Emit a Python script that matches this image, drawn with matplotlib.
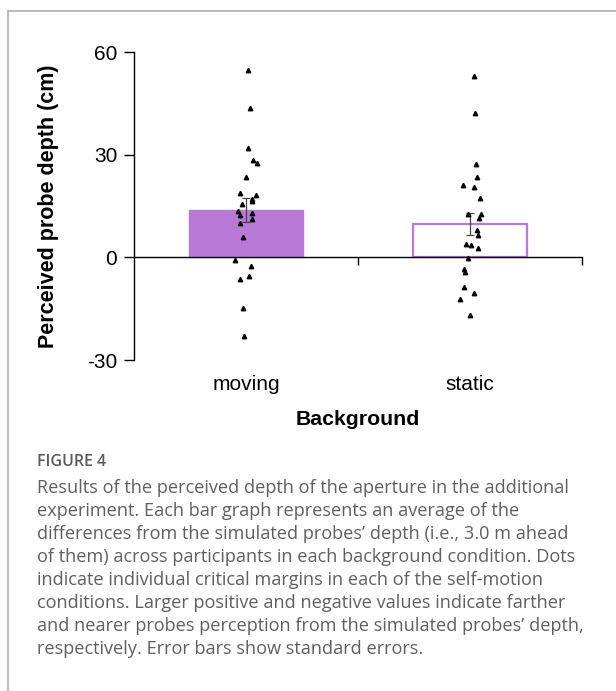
import matplotlib
matplotlib.use("Agg")
import matplotlib.pyplot as plt
from matplotlib.lines import Line2D

categories = ["moving", "static"]
means = [13.9, 9.7]
sems = [3.5, 3.2]

moving_vals = [54.6, 43.6, 31.9, 28.5, 27.5, 23.4, 18.7, 18.2, 17.0, 16.4, 15.5, 13.6,
               12.5, 12.9, 11.3, 10.1, 6.0, -0.8, -2.5, -5.5, -6.3, -14.9, -23.1]
moving_jit = [0.011, 0.019, 0.011, 0.032, 0.047, 0.002, -0.026, 0.045, 0.028, 0.028, -0.017, -0.037,
              -0.029, 0.028, 0.028, -0.026, -0.013, -0.048, 0.023, 0.014, -0.026, -0.013, -0.008]
static_vals = [52.9, 42.3, 27.2, 23.4, 21.1, 20.5, 17.2, 12.6, 12.6, 11.6, 8.1, 6.6,
               4.0, 3.5, 2.8, -0.1, -3.5, -4.3, -8.7, -10.4, -12.2, -16.9]
static_jit = [0.018, 0.021, 0.026, 0.031, -0.033, 0.017, 0.046, -0.008, 0.048, 0.040, 0.031, 0.036,
              -0.017, 0.003, 0.036, -0.010, -0.026, -0.021, -0.026, 0.017, -0.045, -0.001]
yticks = [-30, 0, 30, 60]

caption_title = "FIGURE 4"
caption_lines = [
    "Results of the perceived depth of the aperture in the additional",
    "experiment. Each bar graph represents an average of the",
    "differences from the simulated probes\u2019 depth (i.e., 3.0 m ahead",
    "of them) across participants in each background condition. Dots",
    "indicate individual critical margins in each of the self-motion",
    "conditions. Larger positive and negative values indicate farther",
    "and nearer probes perception from the simulated probes\u2019 depth,",
    "respectively. Error bars show standard errors.",
]

W, H = 616, 691
fig = plt.figure(figsize=(W / 100, H / 100), dpi=100)
fig.patch.set_facecolor("white")

# frame lines
fig.add_artist(Line2D([8 / W, 8 / W], [0, 1 - 11 / H], transform=fig.transFigure, color="#b0b0b0", lw=1.2))
fig.add_artist(Line2D([8 / W, 1], [1 - 11 / H, 1 - 11 / H], transform=fig.transFigure, color="#b0b0b0", lw=1.2))

left, right, top, bottom = 134, 582, 52, 360
ax = fig.add_axes([left / W, 1 - bottom / H, (right - left) / W, (bottom - top) / H])

sans = ["Liberation Sans", "DejaVu Sans"]
xpos = [1, 2]
ax.bar(xpos[0], means[0], width=0.505, color="#b87ad6", edgecolor="#b87ad6", lw=1, zorder=2)
ax.bar(xpos[1], means[1], width=0.505, color="white", edgecolor="#b87ad6", lw=1.6, zorder=2)
ax.errorbar(xpos, means, yerr=sems, fmt="none", ecolor="#444444", elinewidth=0.9, capsize=3, capthick=0.9, zorder=3)

ax.plot([xpos[0] + j for j in moving_jit], moving_vals, ls="none", marker="^", ms=3.2, color="black", zorder=4)
ax.plot([xpos[1] + j for j in static_jit], static_vals, ls="none", marker="^", ms=3.2, color="black", zorder=4)

ax.set_xlim(0.5, 2.5)
ax.set_ylim(-30, 60)
ax.set_yticks(yticks)
ax.set_yticklabels([str(t) for t in yticks], fontsize=15, family=sans)
ax.tick_params(axis="y", direction="out", length=7, width=1, pad=5)
ax.spines["top"].set_visible(False)
ax.spines["right"].set_visible(False)
ax.spines["bottom"].set_position(("data", 0))
ax.spines["left"].set_linewidth(1)
ax.spines["bottom"].set_linewidth(1)
ax.set_xticks([1.5, 2.5])
ax.set_xticklabels(["", ""])
ax.tick_params(axis="x", direction="out", length=6, width=1)

sec = ax.secondary_xaxis(0)
sec.spines["bottom"].set_visible(False)
sec.set_xticks(xpos)
sec.set_xticklabels(categories, fontsize=15, family=sans)
sec.tick_params(axis="x", length=0, pad=11)
sec.set_xlabel("Background", fontsize=15.3, fontweight="bold", family=sans, labelpad=11)

ax.set_ylabel("Perceived probe depth (cm)", fontsize=15.5, fontweight="bold", family=sans)
ax.yaxis.set_label_coords(-0.168, 0.5)

cap_font = ["Open Sans", "DejaVu Sans"]
fig.text(37 / W, 1 - 462 / H, caption_title, fontsize=11.5, color="#5a5a5a", family=cap_font,
         fontweight="semibold", va="center")
for i, line in enumerate(caption_lines):
    fig.text(37 / W, 1 - (488 + 23 * i) / H, line, fontsize=13.1, color="#5f5f5f", family=cap_font, va="center")

fig.savefig("out.png", dpi=100)
